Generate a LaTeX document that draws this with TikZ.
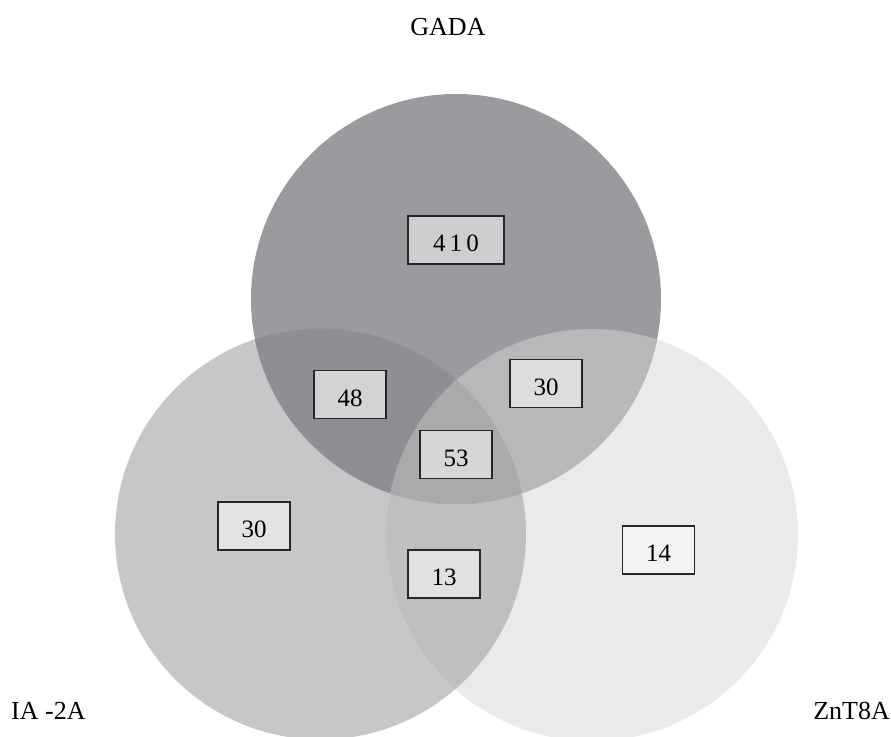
\documentclass[tikz,border=0pt]{standalone}
\usepackage{fontspec}
\setmainfont{Liberation Serif}
\definecolor{cG}{HTML}{9A9B9F}
\definecolor{cI}{HTML}{C6C7C9}
\definecolor{cZ}{HTML}{E9EAEA}
\definecolor{cGI}{HTML}{8E8F93}
\definecolor{cGZ}{HTML}{B7B8BA}
\definecolor{cIZ}{HTML}{BEBFC1}
\definecolor{cGIZ}{HTML}{A9AAAC}
\begin{document}
\begin{tikzpicture}[x=1pt,y=-1pt,
  numbox/.style={draw=black!85,line width=1.8pt,minimum width=72pt,minimum height=48pt,inner sep=0pt,text height=23pt,text depth=0pt,font=\fontsize{25}{29}\selectfont},
  setlabel/.style={font=\fontsize{26}{30}\selectfont,inner sep=0pt}]
\useasboundingbox (0,0) rectangle (891,736);
\def\GA{(456,299) circle (205)}
\def\IA{(320.5,534) circle (205.5)}
\def\ZN{(592,535) circle (206)}
\begin{scope}
\clip (0,0) rectangle (891,736);
\fill[cI] \IA;
\fill[cZ] \ZN;
\begin{scope}\clip \IA; \fill[cIZ] \ZN;\end{scope}
\fill[cG] \GA;
\begin{scope}\clip \GA; \fill[cGI] \IA;\end{scope}
\begin{scope}\clip \GA; \fill[cGZ] \ZN;\end{scope}
\begin{scope}\clip \GA; \clip \IA; \fill[cGIZ] \ZN;\end{scope}
\end{scope}
\node[numbox,fill={rgb,255:red,205;green,206;blue,208},minimum width=96pt] (n410) at (456,240) {4\,1\,0};
\node[numbox,fill={rgb,255:red,210;green,211;blue,213}] (n48) at (350,394.5) {48};
\node[numbox,fill={rgb,255:red,213;green,214;blue,216}] (n53) at (456,454.5) {53};
\node[numbox,fill={rgb,255:red,220;green,221;blue,223}] (n30r) at (546,383.5) {30};
\node[numbox,fill={rgb,255:red,226;green,227;blue,229}] (n30l) at (254,526) {30};
\node[numbox,fill={rgb,255:red,224;green,225;blue,227}] (n13) at (444,574) {13};
\node[numbox,fill={rgb,255:red,242;green,243;blue,243}] (n14) at (658.5,550) {14};
\node[setlabel,anchor=base] (lG) at (448,35) {GADA};
\node[setlabel,anchor=base west] (lI) at (11,719) {IA -2A};
\node[setlabel,anchor=base east] (lZ) at (890,719) {ZnT8A};
\end{tikzpicture}
\end{document}
